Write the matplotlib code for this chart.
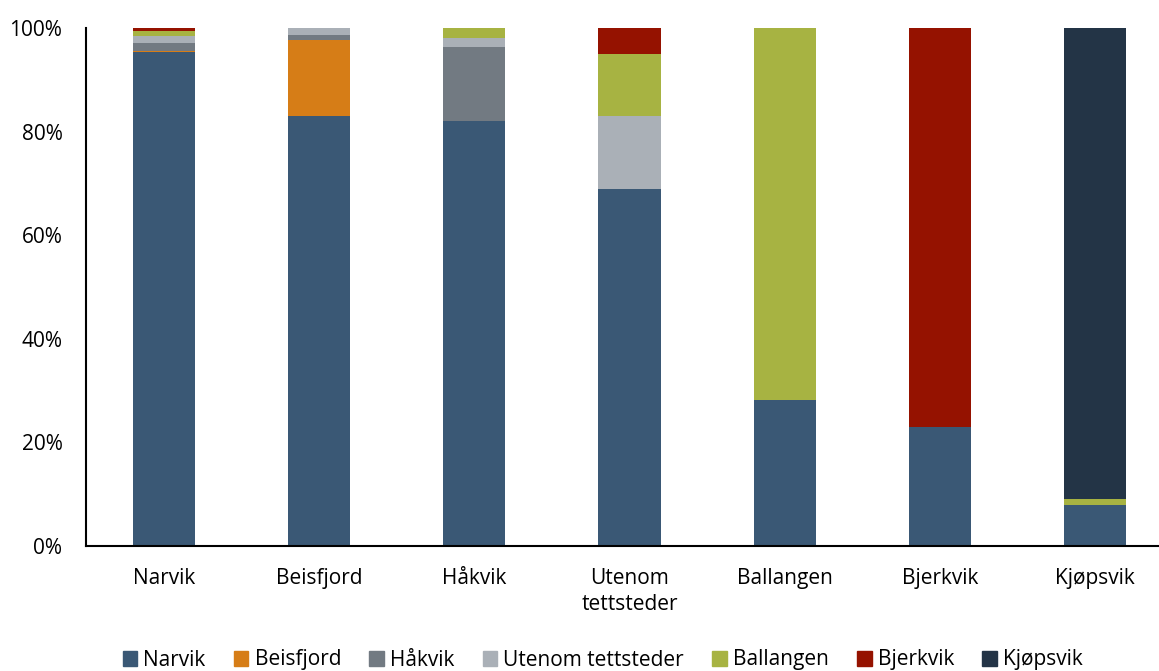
import matplotlib.pyplot as plt
from matplotlib.patches import Patch
from matplotlib.ticker import PercentFormatter

plt.rcParams['font.family'] = ['Open Sans', 'DejaVu Sans']

# categories (bars) and series (stacked segments), values in percent
steder = ['Narvik', 'Beisfjord', 'Håkvik', 'Utenom\ntettsteder', 'Ballangen', 'Bjerkvik', 'Kjøpsvik']
serier = ['Narvik', 'Beisfjord', 'Håkvik', 'Utenom tettsteder', 'Ballangen', 'Bjerkvik', 'Kjøpsvik']

narvik = [95.3, 83.1, 82.1, 68.9, 28.2, 23.0, 7.9]
beisfjord = [0.2, 14.6, 0.0, 0.0, 0.0, 0.0, 0.0]
hakvik = [1.7, 1.0, 14.3, 0.0, 0.0, 0.0, 0.0]
utenom = [1.2, 1.3, 1.7, 14.2, 0.0, 0.0, 0.0]
ballangen = [1.0, 0.0, 1.9, 11.9, 71.8, 0.0, 1.2]
bjerkvik = [0.6, 0.0, 0.0, 5.0, 0.0, 77.0, 0.0]
kjopsvik = [0.0, 0.0, 0.0, 0.0, 0.0, 0.0, 90.9]

farger = ['#3A5875', '#D67D17', '#727A82', '#AAB0B7', '#A7B342', '#951200', '#233446']

fig = plt.figure(figsize=(11.59, 6.71), dpi=100)
ax = fig.add_axes([86 / 1159, 1 - 546 / 671, 1 - 86 / 1159, (546 - 28) / 671])

x = list(range(len(steder)))
bunn = [0.0] * len(steder)
for verdier, farge in zip([narvik, beisfjord, hakvik, utenom, ballangen, bjerkvik, kjopsvik], farger):
    ax.bar(x, verdier, bottom=bunn, width=0.4, color=farge)
    bunn = [b + v for b, v in zip(bunn, verdier)]

ax.set_xlim(-0.5, 6.41)
ax.set_ylim(0, 100)
ax.set_yticks([0, 20, 40, 60, 80, 100])
ax.yaxis.set_major_formatter(PercentFormatter(decimals=0))
ax.set_xticks(x)
ax.set_xticklabels(steder, linespacing=1.3)
ax.tick_params(axis='both', length=0, labelsize=15, colors='black')
ax.tick_params(axis='x', pad=16)
ax.tick_params(axis='y', pad=17)
ax.spines['top'].set_visible(False)
ax.spines['right'].set_visible(False)
ax.spines['left'].set_linewidth(1.5)
ax.spines['bottom'].set_linewidth(1.5)

handles = [Patch(color=f, label=s) for f, s in zip(farger, serier)]
fig.legend(handles=handles, loc='center', bbox_to_anchor=(0.52, 1 - 660 / 671), ncol=7,
           frameon=False, fontsize=15, handlelength=0.7, handleheight=0.7,
           handletextpad=0.3, columnspacing=1.35)

fig.savefig('out.png', dpi=100)
